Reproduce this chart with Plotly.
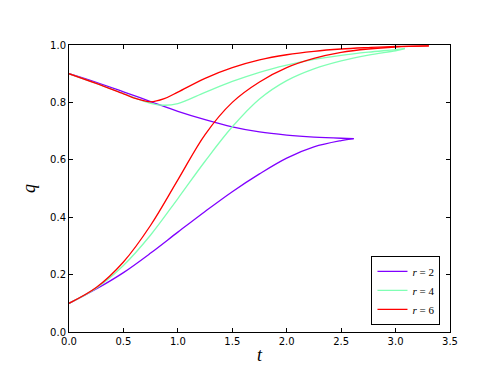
import plotly.graph_objects as go

# ---- data ----
t_r2 = [0.0, 0.25, 0.5, 0.75, 1.0, 1.25, 1.5, 1.75, 2.0, 2.25, 2.5, 2.616]
upper_r2 = [0.900, 0.870, 0.837, 0.803, 0.769, 0.740, 0.715, 0.697, 0.686, 0.679, 0.675, 0.674]
lower_r2 = [0.100, 0.150, 0.207, 0.275, 0.348, 0.420, 0.489, 0.551, 0.606, 0.645, 0.667, 0.674]

t_r4 = [0.0, 0.25, 0.5, 0.75, 0.875, 1.0, 1.25, 1.5, 1.75, 2.0, 2.25, 2.5, 2.75, 3.0, 3.086]
upper_r4 = [0.900, 0.866, 0.831, 0.797, 0.790, 0.796, 0.835, 0.873, 0.905, 0.930, 0.950, 0.964, 0.975, 0.984, 0.988]
t_r4_low = [0.0, 0.25, 0.5, 0.75, 1.0, 1.25, 1.5, 1.75, 2.0, 2.25, 2.5, 2.75, 3.0, 3.086]
lower_r4 = [0.100, 0.153, 0.232, 0.338, 0.465, 0.595, 0.715, 0.812, 0.876, 0.917, 0.945, 0.965, 0.980, 0.987]

t_r6 = [0.0, 0.25, 0.5, 0.625, 0.75, 0.875, 1.0, 1.25, 1.5, 1.75, 2.0, 2.25, 2.5, 2.75, 3.0, 3.306]
upper_r6 = [0.900, 0.866, 0.830, 0.812, 0.802, 0.813, 0.836, 0.884, 0.921, 0.948, 0.966, 0.978, 0.986, 0.991, 0.995, 0.997]
t_r6_low = [0.0, 0.25, 0.5, 0.75, 1.0, 1.25, 1.5, 1.75, 2.0, 2.25, 2.5, 2.75, 3.0, 3.306]
lower_r6 = [0.100, 0.155, 0.244, 0.372, 0.530, 0.688, 0.800, 0.871, 0.921, 0.953, 0.974, 0.986, 0.993, 0.997]

r_values = ["2", "4", "6"]
series_colors = ["#8000ff", "#80ffb4", "#ff0000"]

x_ticks = [0.0, 0.5, 1.0, 1.5, 2.0, 2.5, 3.0, 3.5]
y_ticks = [0.0, 0.2, 0.4, 0.6, 0.8, 1.0]

series = [
    (t_r2, upper_r2, t_r2, lower_r2),
    (t_r4, upper_r4, t_r4_low, lower_r4),
    (t_r6, upper_r6, t_r6_low, lower_r6),
]

fig = go.Figure()
for (tu, up, tl, lo), rv, col in zip(series, r_values, series_colors):
    line = dict(color=col, width=1.3, shape="spline", smoothing=1.0)
    fig.add_trace(go.Scatter(
        x=tl, y=lo, mode="lines", name=f"<i>r</i> = {rv}",
        legendgroup=rv, showlegend=True, line=line,
    ))
    fig.add_trace(go.Scatter(
        x=tu, y=up, mode="lines", name=f"r = {rv}",
        legendgroup=rv, showlegend=False, line=line,
    ))

axis_common = dict(
    showgrid=False, zeroline=False, showline=True, linecolor="black", linewidth=1,
    mirror="allticks", ticks="inside", ticklen=4, tickwidth=1, tickcolor="black",
    tickfont=dict(family="DejaVu Sans", size=10, color="black"),
)

fig.update_layout(
    width=491, height=366,
    margin=dict(l=61, r=49, t=37, b=37),
    paper_bgcolor="white", plot_bgcolor="white",
    xaxis=dict(range=[0, 3.5], tickvals=x_ticks, ticktext=[f"{v:.1f}" for v in x_ticks],
               title=dict(text="<i>t</i>", font=dict(family="Liberation Serif", size=18, color="black"), standoff=2),
               **axis_common),
    yaxis=dict(range=[0, 1.0], tickvals=y_ticks, ticktext=[f"{v:.1f}" for v in y_ticks],
               title=dict(text="<i>q</i>", font=dict(family="Liberation Serif", size=18, color="black"), standoff=9),
               **axis_common),
    legend=dict(x=0.975, y=0.025, xanchor="right", yanchor="bottom",
                bordercolor="black", borderwidth=1, bgcolor="white",
                font=dict(family="Liberation Serif", size=11, color="black"),
                itemwidth=30, tracegroupgap=0),
    showlegend=True,
)

fig.write_html("out.html")
